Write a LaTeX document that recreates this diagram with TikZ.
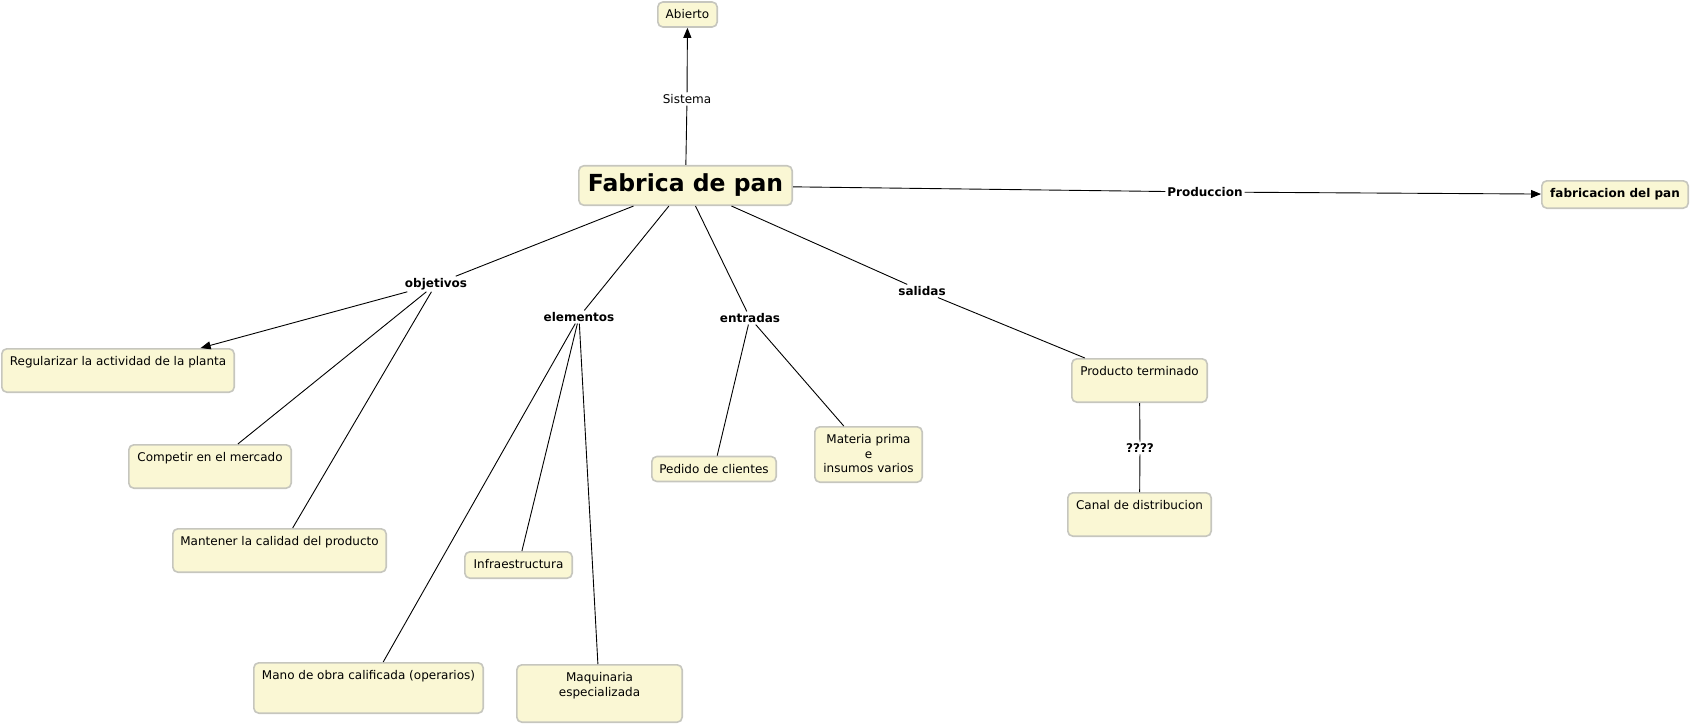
\documentclass[tikz,border=0pt]{standalone}
\usepackage{fontspec}
\setmainfont{DejaVu Sans}
\usetikzlibrary{arrows.meta}
\definecolor{conceptfill}{RGB}{250,247,212}
\definecolor{conceptline}{RGB}{198,198,190}

\begin{document}
\begin{tikzpicture}[x=1pt,y=-1pt,line width=0.9pt,
  >={Triangle[length=10pt,width=8pt]},
  concept/.style={draw=conceptline,fill=conceptfill,line width=1.6pt,rounded corners=5pt,
    inner xsep=4pt,inner ysep=5pt,text height=12pt,text depth=3pt,
    font=\fontsize{12}{14.5}\selectfont},
  link/.style={inner sep=1.5pt,fill=white,font=\fontsize{12}{14.5}\selectfont\bfseries}]
\useasboundingbox (0,0) rectangle (1690,725);

% concepts
\node[concept,minimum width=213.4pt,inner ysep=8pt,text height=18pt,text depth=5.5pt,
  font=\fontsize{23.5}{28}\selectfont\bfseries] (fab) at (685.5,185.5) {Fabrica de pan};
\node[concept,minimum width=59.4pt] (abi) at (687.5,14.5) {Abierto};
\node[concept,minimum width=146.4pt,text depth=5.4pt,
  font=\fontsize{12}{14.5}\selectfont\bfseries] (fdp) at (1615,194.5) {fabricacion del pan};
\node[concept,minimum width=232.4pt,text depth=21.4pt] (reg) at (118,370.5) {Regularizar la actividad de la planta};
\node[concept,minimum width=162.4pt,text depth=21.4pt] (com) at (210,466.5) {Competir en el mercado};
\node[concept,minimum width=213.4pt,text depth=21.4pt] (man) at (279.5,550.5) {Mantener la calidad del producto};
\node[concept,minimum width=229.4pt,text depth=28.4pt] (mob) at (368.5,688) {Mano de obra calificada (operarios)};
\node[concept,minimum width=107.4pt,text depth=4.4pt] (inf) at (518.5,565) {Infraestructura};
\node[concept,minimum width=165.4pt,text height=26.5pt,text depth=20.9pt,align=center] (maq) at (599.5,693.5) {Maquinaria\\especializada};
\node[concept,minimum width=124.4pt] (ped) at (714,469) {Pedido de clientes};
\node[concept,minimum width=107.4pt,text height=41pt,text depth=4.4pt,align=center] (mat) at (868.5,454.5) {Materia prima\\e\\insumos varios};
\node[concept,minimum width=135.4pt,text depth=21.4pt] (pro) at (1139.5,380.5) {Producto terminado};
\node[concept,minimum width=143.4pt,text depth=21.4pt] (can) at (1139.5,514.5) {Canal de distribucion};

% linking phrases
\node[link,font=\fontsize{12}{14.5}\selectfont] (sis) at (687,99) {Sistema};
\node[link] (pdn) at (1205,192) {Produccion};
\node[link] (obj) at (436,284) {objetivos};
\node[link] (ele) at (579,317) {elementos};
\node[link] (ent) at (750,318) {entradas};
\node[link] (sal) at (922,291) {salidas};
\node[link] (qqq) at (1140,448) {????};

% connectors
\draw (fab) -- (sis);
\draw[->] (sis) -- (abi);
\draw (fab) -- (pdn);
\draw[->] (pdn) -- (fdp);
\draw (fab) -- (obj);
\draw[->] (obj) -- (reg);
\draw (obj) -- (com);
\draw (obj) -- (man);
\draw (fab) -- (ele);
\draw (ele) -- (mob);
\draw (ele) -- (inf);
\draw (ele) -- (maq);
\draw (fab) -- (ent);
\draw (ent) -- (ped);
\draw (ent) -- (mat);
\draw (fab) -- (sal);
\draw (sal) -- (pro);
\draw (pro) -- (qqq);
\draw (qqq) -- (can);
\end{tikzpicture}
\end{document}
